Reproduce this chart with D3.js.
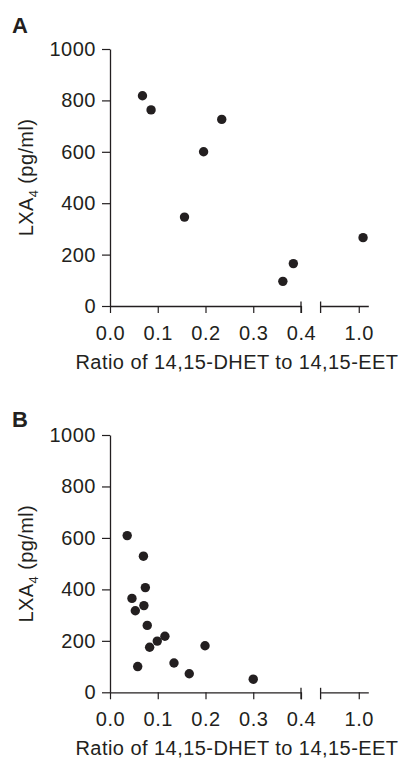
<!DOCTYPE html>
<html><head><meta charset="utf-8">
<script src="https://cdn.jsdelivr.net/npm/d3@7"></script>
<style>
html,body{margin:0;padding:0;background:#fff;}
text{font-family:"Liberation Sans",Arial,Helvetica,sans-serif;fill:#231f20;}
</style></head>
<body><svg id="c" width="406" height="759"></svg>
<script>
// ---- data ----
const panelLabels = ["A", "B"];
const yTicks = [0, 200, 400, 600, 800, 1000];
const xTicksLeft = [0, 0.1, 0.2, 0.3, 0.4];
const xTicksRight = [1.0];
const xDomainLeft = [0, 0.4];
const xDomainRight = [0.92, 1.02];
const yDomain = [0, 1000];
const xTitle = "Ratio of 14,15-DHET to 14,15-EET";

const ratioA = [0.068, 0.086, 0.234, 0.196, 0.156, 0.362, 0.384, 1.009];
const lxa4A  = [818, 763, 726, 600, 346, 96, 165, 266];

const ratioB = [0.036, 0.070, 0.074, 0.046, 0.071, 0.053, 0.078, 0.115, 0.099, 0.083, 0.199, 0.134, 0.058, 0.166, 0.300];
const lxa4B  = [609, 529, 407, 365, 337, 317, 260, 218, 199, 175, 181, 114, 100, 72, 51];

// ---- drawing ----
const svg = d3.select("#c");
const ink = "#231f20";
const panels = [
  {label: panelLabels[0], x: ratioA, y: lxa4A, top: 49, bottom: 306, labelY: 33.3},
  {label: panelLabels[1], x: ratioB, y: lxa4B, top: 435, bottom: 692.3, labelY: 427}
];
const left = 110, breakL = 301, breakR = 320.6, right = 368.3;

panels.forEach(p => {
  const g = svg.append("g");
  const xL = d3.scaleLinear().domain(xDomainLeft).range([left, breakL]);
  const xR = d3.scaleLinear().domain(xDomainRight).range([breakR, right]);
  const y = d3.scaleLinear().domain(yDomain).range([p.bottom, p.top]);
  const xs = v => v > xDomainLeft[1] ? xR(v) : xL(v);

  // y axis
  const ya = g.append("g").attr("transform", `translate(${left},0)`)
    .call(d3.axisLeft(y).tickValues(yTicks).tickSize(8).tickSizeOuter(0).tickPadding(6).tickFormat(d3.format("d")));
  // x axes
  const xa1 = g.append("g").attr("transform", `translate(0,${p.bottom})`)
    .call(d3.axisBottom(xL).tickValues(xTicksLeft).tickSize(7).tickSizeOuter(0).tickPadding(12.5).tickFormat(d3.format(".1f")));
  const xa2 = g.append("g").attr("transform", `translate(0,${p.bottom})`)
    .call(d3.axisBottom(xR).tickValues(xTicksRight).tickSize(7).tickSizeOuter(0).tickPadding(12.5).tickFormat(d3.format(".1f")));
  [ya, xa1, xa2].forEach(a => {
    a.selectAll("path.domain").attr("stroke", ink).attr("stroke-width", 1.3);
    a.selectAll(".tick line").attr("stroke", ink).attr("stroke-width", 1.2);
    a.selectAll(".tick text").attr("font-size", 20).attr("fill", ink)
      .style("letter-spacing", "0.5px")
      .attr("font-family", '"Liberation Sans",Arial,sans-serif');
  });
  // break markers
  [breakL, breakR].forEach(bx => {
    g.append("line").attr("x1", bx).attr("x2", bx).attr("y1", p.bottom - 4.5).attr("y2", p.bottom + 7)
      .attr("stroke", ink).attr("stroke-width", 1.3);
  });
  // points
  g.selectAll("circle").data(p.x.map((v, i) => [v, p.y[i]])).enter().append("circle")
    .attr("cx", d => xs(d[0])).attr("cy", d => y(d[1])).attr("r", 4.7).attr("fill", ink);
  // panel label
  g.append("text").attr("x", 12).attr("y", p.labelY).attr("font-size", 22).attr("font-weight", "bold").text(p.label);
  // x title
  g.append("text").attr("x", 237).attr("y", p.bottom + 63).attr("text-anchor", "middle").attr("font-size", 20)
    .style("letter-spacing", "0.45px").text(xTitle);
  // y title
  const yt = g.append("text").attr("transform", `translate(32.5,${(p.top + p.bottom) / 2}) rotate(-90)`)
    .attr("text-anchor", "middle").attr("font-size", 20).style("letter-spacing", "0.4px");
  yt.append("tspan").text("LXA");
  yt.append("tspan").attr("font-size", 13).attr("dy", 5).text("4");
  yt.append("tspan").attr("dy", -5).text(" (pg/ml)");
});
</script></body></html>
